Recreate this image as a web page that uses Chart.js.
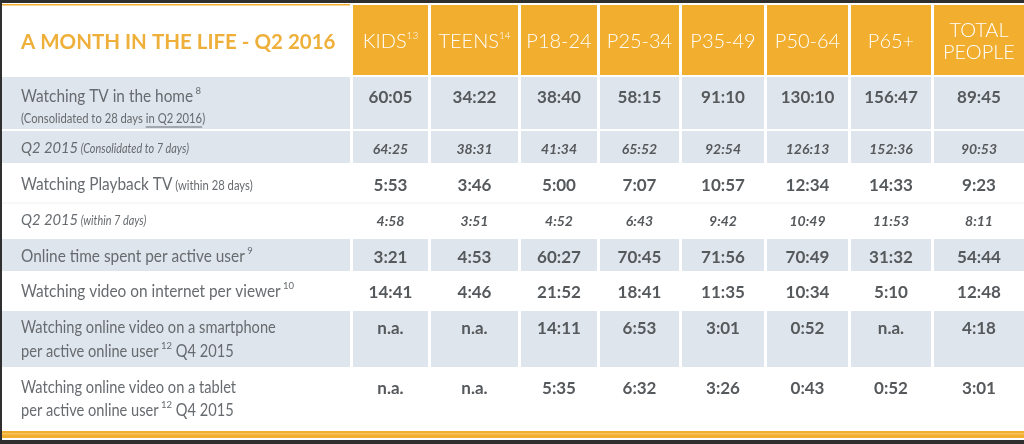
<!DOCTYPE html>
<html>
<head>
<meta charset="utf-8">
<script src="https://cdn.jsdelivr.net/npm/chart.js@4"></script>
<style>
  html, body { margin: 0; padding: 0; width: 1024px; height: 444px; overflow: hidden; background: #2f2f2f; }
  #wrap { position: absolute; left: 2px; top: 3px; width: 1022px; height: 437px; background: #fff; }
</style>
</head>
<body>
<div id="wrap"><canvas id="myChart"></canvas></div>
<script>
// ---- data ----
const title = "A MONTH IN THE LIFE - Q2 2016";
const groups = ["KIDS", "TEENS", "P18-24", "P25-34", "P35-49", "P50-64", "P65+", "TOTAL PEOPLE"];
const groupNotes = ["13", "14", "", "", "", "", "", ""];

const tvHome = ["60:05", "34:22", "38:40", "58:15", "91:10", "130:10", "156:47", "89:45"];
const tvHome2015 = ["64:25", "38:31", "41:34", "65:52", "92:54", "126:13", "152:36", "90:53"];
const playbackTv = ["5:53", "3:46", "5:00", "7:07", "10:57", "12:34", "14:33", "9:23"];
const playbackTv2015 = ["4:58", "3:51", "4:52", "6:43", "9:42", "10:49", "11:53", "8:11"];
const onlineTime = ["3:21", "4:53", "60:27", "70:45", "71:56", "70:49", "31:32", "54:44"];
const videoInternet = ["14:41", "4:46", "21:52", "18:41", "11:35", "10:34", "5:10", "12:48"];
const videoSmartphone = ["n.a.", "n.a.", "14:11", "6:53", "3:01", "0:52", "n.a.", "4:18"];
const videoTablet = ["n.a.", "n.a.", "5:35", "6:32", "3:26", "0:43", "0:52", "3:01"];

// row labels, as runs of [text, style]
const rowLabels = [
  [[["Watching TV in the home", "main"], [" 8", "sup"]],
   [["(Consolidated to 28 days ", "small"], ["in Q2 2016", "under"], [")", "small"]]],
  [[["Q2 2015", "it"], [" (Consolidated to 7 days)", "itSmall"]]],
  [[["Watching Playback TV", "main"], [" (within 28 days)", "small"]]],
  [[["Q2 2015", "it"], [" (within 7 days)", "itSmall"]]],
  [[["Online time spent per active user", "main"], [" 9", "sup"]]],
  [[["Watching video on internet per viewer", "main"], [" 10", "sup"]]],
  [[["Watching online video on a smartphone", "tight"]],
   [["per active online user", "tight"], [" 12", "sup"], [" Q4 2015", "tight"]]],
  [[["Watching online video on a tablet", "tight"]],
   [["per active online user", "tight"], [" 12", "sup"], [" Q4 2015", "tight"]]]
];
const rowValues = [tvHome, tvHome2015, playbackTv, playbackTv2015, onlineTime, videoInternet, videoSmartphone, videoTablet];

// ---- layout ----
const colStarts = [2, 353, 431, 521, 600, 682, 767, 851, 934, 1027];
const rowTops = [77, 131, 165, 203, 239, 273, 311, 369, 430];
const rowShaded = [true, true, false, false, true, false, true, false];
const rowItalic = [false, true, false, true, false, false, false, false];
const rowTextY = [[97, 118], [148], [185], [220], [257], [292], [328, 352], [388, 411]];

const ORANGE = "#f1ae2f";
const BLUE = "#dfe5ec";
const LABEL = "#676b6f";
const NUM = "#56595c";
const FONT = "Lato, 'Open Sans', sans-serif";

// sx = horizontal squeeze to get the narrow look of the original face
const styles = {
  main: { font: `17px ${FONT}`, dy: 0, sx: 0.905 },
  tight: { font: `17px ${FONT}`, dy: 0, sx: 0.86 },
  small: { font: `12.5px ${FONT}`, dy: 1, sx: 0.9 },
  under: { font: `12.5px ${FONT}`, dy: 1, sx: 0.9, underline: true },
  sup: { font: `10px ${FONT}`, dy: -6, sx: 0.95 },
  it: { font: `italic 16px ${FONT}`, dy: 0, sx: 0.92 },
  itSmall: { font: `italic 12.5px ${FONT}`, dy: 1, sx: 0.87 }
};

function drawRuns(c, runs, x, y, color) {
  c.fillStyle = color;
  c.strokeStyle = color;
  c.textAlign = "left";
  c.textBaseline = "middle";
  runs.forEach(([t, s]) => {
    const st = styles[s];
    c.font = st.font;
    const w = c.measureText(t).width * st.sx;
    c.save();
    c.translate(x, y + st.dy);
    c.scale(st.sx, 1);
    c.fillText(t, 0, 0);
    c.restore();
    if (st.underline) {
      c.lineWidth = 1;
      c.beginPath();
      c.moveTo(x, y + st.dy + 8);
      c.lineTo(x + w, y + st.dy + 8);
      c.stroke();
    }
    x += w;
  });
}

const tablePlugin = {
  id: "monthTable",
  afterDraw(chart) {
    const c = chart.ctx;
    const sx = chart.scales.x, sy = chart.scales.y;
    const px = (v) => sx.getPixelForValue(v);
    const py = (v) => sy.getPixelForValue(v);
    c.save();

    // header
    c.fillStyle = ORANGE;
    c.fillRect(px(2), py(4), px(350) - px(2), 1.5);
    c.fillStyle = "#eeb03a";
    c.font = `bold 20.5px ${FONT}`;
    c.textAlign = "left";
    c.textBaseline = "middle";
    c.fillText(title, px(21), py(42));

    groups.forEach((g, i) => {
      const x0 = px(colStarts[i + 1]);
      const x1 = px(colStarts[i + 2] - 3);
      c.fillStyle = ORANGE;
      c.fillRect(x0, py(5), x1 - x0, py(75) - py(5));
      c.fillStyle = "#ffffff";
      c.font = `300 20px ${FONT}`;
      c.textBaseline = "middle";
      const cx = (x0 + x1) / 2;
      const words = g.split(" ");
      if (words.length > 1) {
        c.textAlign = "center";
        c.fillText(words[0], cx, py(31));
        c.fillText(words[1], cx, py(53));
      } else {
        const w = c.measureText(g).width;
        c.font = `300 10px ${FONT}`;
        const nw = groupNotes[i] ? c.measureText(groupNotes[i]).width : 0;
        const left = cx - (w + nw) / 2;
        c.textAlign = "left";
        c.font = `300 20px ${FONT}`;
        c.fillText(g, left, py(42));
        if (groupNotes[i]) {
          c.font = `300 10px ${FONT}`;
          c.fillText(groupNotes[i], left + w, py(36));
        }
      }
    });

    // body rows
    rowValues.forEach((vals, r) => {
      const top = py(rowTops[r]);
      const bottom = py(rowTops[r + 1] - (rowShaded[r] ? 2 : 0));
      if (rowShaded[r]) {
        c.fillStyle = BLUE;
        for (let k = 0; k < colStarts.length - 1; k++) {
          const x0 = px(colStarts[k]);
          const x1 = px(colStarts[k + 1] - 3);
          c.fillRect(x0, top, x1 - x0, bottom - top);
        }
      } else if (r > 0 && !rowShaded[r - 1]) {
        c.fillStyle = "#f1f2f3";
        c.fillRect(px(2), top - 0.5, px(1024) - px(2), 1);
      }
      rowLabels[r].forEach((line, li) => {
        drawRuns(c, line, px(21), py(rowTextY[r][li]), LABEL);
      });
      c.fillStyle = NUM;
      c.textAlign = "center";
      c.textBaseline = "middle";
      c.font = rowItalic[r] ? `italic bold 14px ${FONT}` : `bold 17px ${FONT}`;
      vals.forEach((v, i) => {
        const cx = (px(colStarts[i + 1]) + px(colStarts[i + 2] - 3)) / 2;
        c.fillText(v, cx, py(rowTextY[r][0] + 1));
      });
    });

    // bottom rule
    c.fillStyle = ORANGE;
    c.fillRect(px(2), py(431), px(1024) - px(2), py(438) - py(431));
    c.fillStyle = "#f6c45a";
    c.fillRect(px(2), py(433), px(1024) - px(2), 1.5);
    c.restore();
  }
};

const ctx = document.getElementById("myChart");
const myChart = new Chart(ctx, {
  type: "scatter",
  data: { datasets: [] },
  options: {
    responsive: true,
    maintainAspectRatio: false,
    animation: false,
    layout: { padding: 0 },
    plugins: { legend: { display: false }, tooltip: { enabled: false } },
    scales: {
      x: { type: "linear", min: 2, max: 1024, display: false },
      y: { type: "linear", min: 3, max: 440, reverse: true, display: false }
    }
  },
  plugins: [tablePlugin]
});
</script>
</body>
</html>
